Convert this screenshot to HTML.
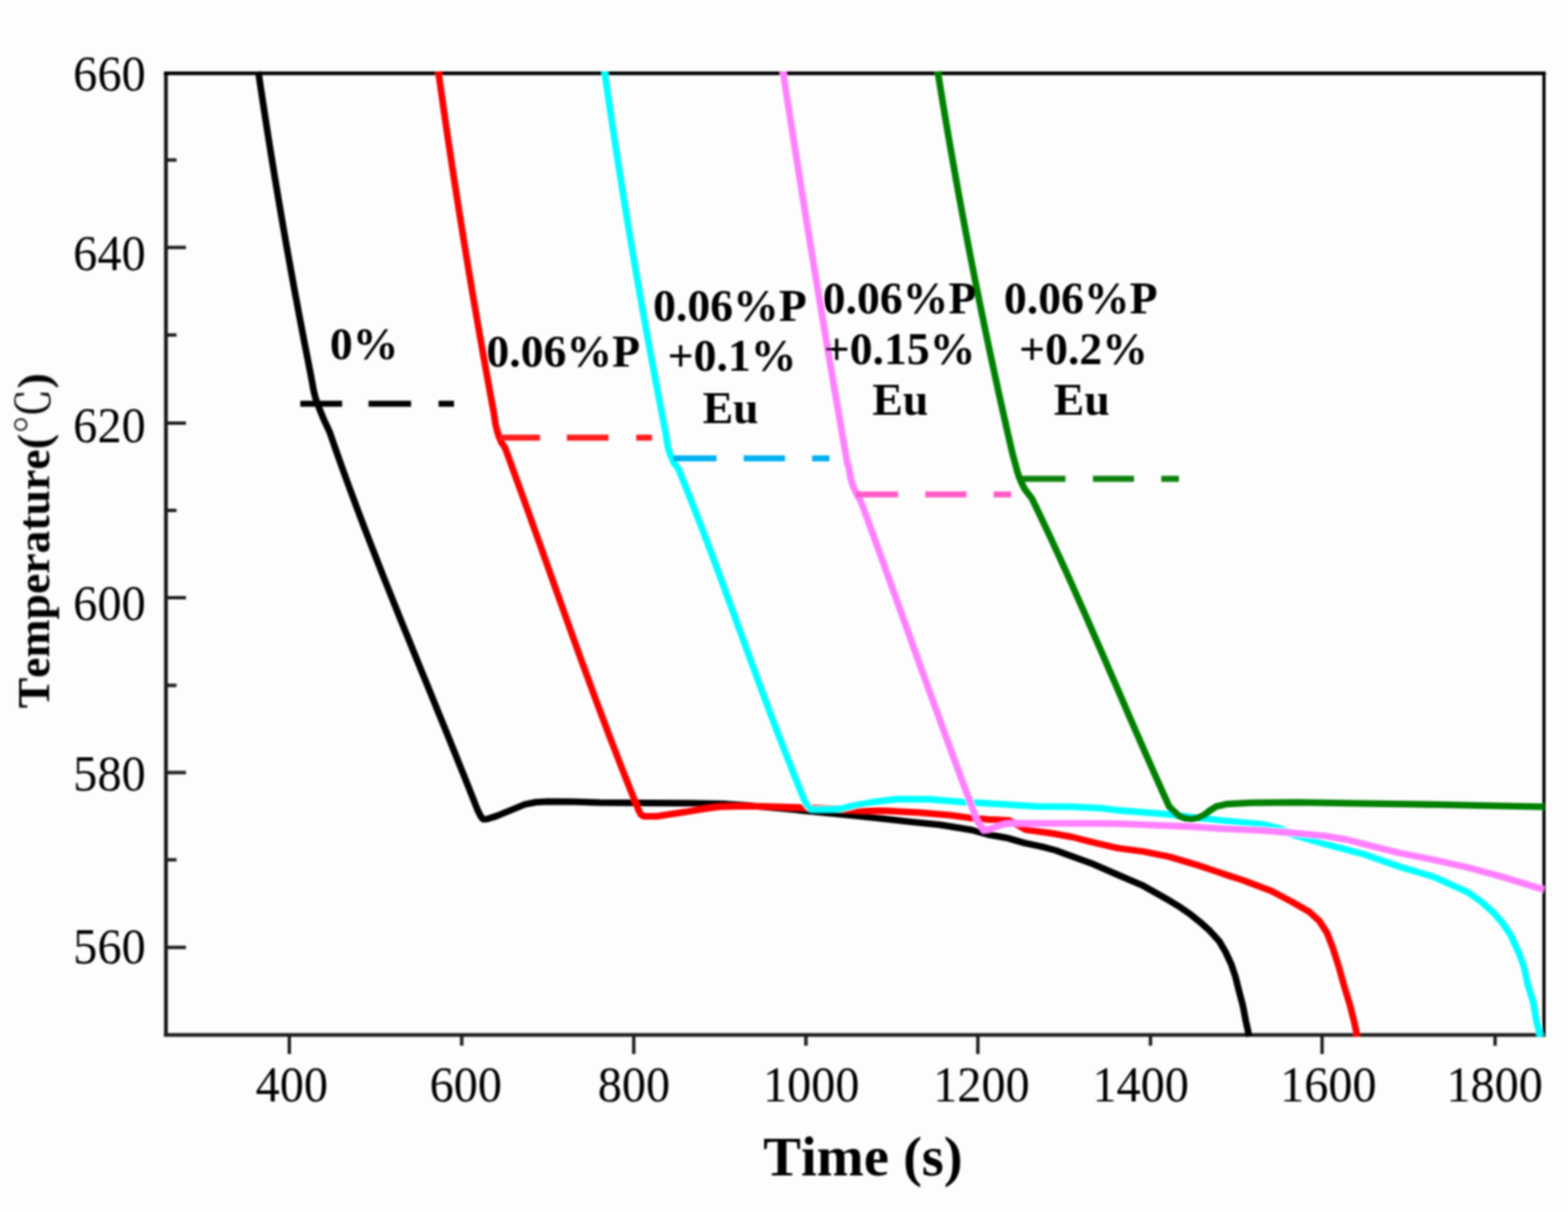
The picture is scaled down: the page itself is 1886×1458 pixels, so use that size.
<!DOCTYPE html><html><head><meta charset="utf-8"><title>Cooling curves</title><style>html,body{margin:0;padding:0;background:#fdfdfd;}svg{display:block}text{font-family:"Liberation Serif","Noto Serif CJK SC",serif;fill:#000;font-kerning:none;font-feature-settings:"kern" 0}</style></head><body>
<svg width="1886" height="1458" viewBox="0 0 1886 1458">
<rect x="0" y="0" width="1886" height="1458" fill="#fdfdfd"/>
<defs><filter id="soft" x="0" y="0" width="100%" height="100%" filterUnits="userSpaceOnUse"><feGaussianBlur stdDeviation="0.8"/></filter></defs>
<g filter="url(#soft)">
<rect x="197.3" y="86" width="4.6" height="1161" fill="#1a1a1a"/>
<rect x="197.3" y="86" width="1662" height="4.4" fill="#000"/>
<rect x="1855.2" y="86" width="3.8" height="1161" fill="#000"/>
<rect x="197.3" y="1242.8" width="1661.7" height="4.4" fill="#1a1a1a"/>
<rect x="200" y="295.7" width="23.7" height="4" fill="#1a1a1a"/>
<rect x="200" y="507" width="23.7" height="4" fill="#1a1a1a"/>
<rect x="200" y="717" width="23.7" height="4" fill="#1a1a1a"/>
<rect x="200" y="927.4" width="23.7" height="4" fill="#1a1a1a"/>
<rect x="200" y="1137.7" width="23.7" height="4" fill="#1a1a1a"/>
<rect x="200" y="190.5" width="12.3" height="4" fill="#1a1a1a"/>
<rect x="200" y="401" width="12.3" height="4" fill="#1a1a1a"/>
<rect x="200" y="612" width="12.3" height="4" fill="#1a1a1a"/>
<rect x="200" y="822.5" width="12.3" height="4" fill="#1a1a1a"/>
<rect x="200" y="1032.3" width="12.3" height="4" fill="#1a1a1a"/>
<rect x="346" y="1245" width="4" height="23" fill="#1a1a1a"/>
<rect x="760.3" y="1245" width="4" height="23" fill="#1a1a1a"/>
<rect x="1174.2" y="1245" width="4" height="23" fill="#1a1a1a"/>
<rect x="1588.2" y="1245" width="4" height="23" fill="#1a1a1a"/>
<rect x="553.4" y="1245" width="4" height="13" fill="#1a1a1a"/>
<rect x="967.4" y="1245" width="4" height="13" fill="#1a1a1a"/>
<rect x="1381.8" y="1245" width="4" height="13" fill="#1a1a1a"/>
<rect x="1796.3" y="1245" width="4" height="13" fill="#1a1a1a"/>
<polyline points="310.71,86.0 313.55,105.16 316.44,124.32 319.38,143.47 322.38,162.63 325.43,181.79 328.53,200.95 331.69,220.11 334.9,239.26 338.16,258.42 341.47,277.58 344.83,296.74 348.25,315.89 351.72,335.05 355.24,354.21 358.82,373.37 362.45,392.53 366.13,411.68 369.86,430.84 373.64,450.0 377.3,470 379.3,478 381.7,485.1 385.5,495 389.6,504.9 396.62,520.0 403.15,538.91 409.83,557.83 416.64,576.74 423.58,595.65 430.64,614.56 437.8,633.48 445.07,652.39 452.42,671.3 459.85,690.21 467.36,709.12 474.92,728.04 482.53,746.95 490.18,765.86 497.86,784.77 505.57,803.69 513.28,822.6 521.0,841.51 528.7,860.42 536.39,879.34 544.06,898.25 551.68,917.16 559.26,936.07 566.78,954.99 574.23,973.9 578.5,982.5 581,985.6 586,985.2 597.4,981.6 614.4,974.6 631.4,967.6 645,965 660,964.3 690,964.4 722,965.5 754,965.7 780,966 830,966.2 870,967 900,969 940,972.5 980,976.5 1016,980 1054.5,984 1092.7,988.4 1131,992.2 1169,998.5 1190,1004.3 1211.2,1008 1232.4,1014.2 1253.6,1018.7 1270,1023 1280,1026.8 1311.8,1038.2 1343.6,1052 1375.4,1065.7 1407.3,1083.8 1420,1091.7 1431.7,1099.8 1443.3,1109.1 1455,1119.6 1466.6,1132.4 1474,1145 1481,1160 1486,1175 1490,1191 1495,1210 1498.3,1227.3 1501.5,1241.8 1502,1247" fill="none" stroke="#000000" stroke-width="8" stroke-linejoin="round" stroke-linecap="butt"/>
<polyline points="527.25,86.0 530.27,107.53 533.34,129.05 536.46,150.58 539.64,172.11 542.87,193.63 546.15,215.16 549.49,236.68 552.88,258.21 556.32,279.74 559.82,301.26 563.37,322.79 566.97,344.32 570.62,365.84 574.33,387.37 578.09,408.89 581.91,430.42 585.78,451.95 589.7,473.47 593.67,495.0 596.2,511.5 598.5,520 600.3,525.7 603,532 607.57,538.9 614.23,557.09 620.85,575.27 627.42,593.46 633.96,611.65 640.47,629.84 646.96,648.02 653.43,666.21 659.9,684.4 666.37,702.59 672.84,720.77 679.34,738.96 685.85,757.15 692.4,775.34 698.98,793.52 705.61,811.71 712.29,829.9 719.02,848.09 725.83,866.27 732.71,884.46 739.67,902.65 746.72,920.84 753.86,939.02 761.11,957.21 768.46,975.4 771,980 774,982 790,982 809.4,979 830,975.9 850,972.5 865.9,970.5 894.5,969.8 923.2,970.3 960,971.2 1000,973 1035.4,975 1067.3,975.6 1105.4,977.5 1143.6,980.7 1166.5,983.9 1188.6,985.8 1214,987 1225,993 1233.6,998.1 1265.4,1002.5 1290,1007 1311.8,1012.7 1343.6,1020.1 1375.4,1024.4 1407.3,1030.8 1439.1,1040.3 1480,1054.1 1494,1058.5 1529.7,1072 1556.4,1086.3 1575,1097 1587,1108 1596,1122 1603,1140 1610,1162 1617,1187 1623.8,1209.2 1629,1230 1631.5,1242 1632,1247" fill="none" stroke="#ff0000" stroke-width="8" stroke-linejoin="round" stroke-linecap="butt"/>
<polyline points="727.18,86.0 730.45,108.84 733.79,131.68 737.19,154.53 740.66,177.37 744.19,200.21 747.79,223.05 751.45,245.89 755.18,268.74 758.98,291.58 762.84,314.42 766.76,337.26 770.75,360.11 774.81,382.95 778.93,405.79 783.12,428.63 787.37,451.47 791.69,474.32 796.08,497.16 800.53,520.0 803.1,536.5 805.5,545 807.8,550.7 811,557.5 815.98,563.9 822.8,580.66 829.5,597.42 836.08,614.19 842.57,630.95 848.97,647.71 855.3,664.48 861.56,681.24 867.76,698.0 873.93,714.76 880.06,731.52 886.17,748.29 892.28,765.05 898.39,781.81 904.51,798.58 910.66,815.34 916.85,832.1 923.08,848.86 929.38,865.62 935.75,882.39 942.2,899.15 948.74,915.91 955.39,932.68 962.16,949.44 969.06,966.2 972.5,971 976,973.4 990,973.5 1010,973.3 1029.1,968.6 1054.5,964.2 1080,961.3 1118.2,961.6 1156.3,964.8 1180,966.1 1205.4,967.5 1245.9,970 1290,970.5 1325,972.3 1347.3,975.1 1404.5,979.5 1433.2,983 1470,987.2 1517.7,991.5 1540,997 1555.9,1004.5 1594.1,1015.4 1642.3,1028.2 1683.4,1042.6 1724.6,1054.9 1765.7,1073.4 1782,1085 1796.6,1098.1 1807,1110 1817.1,1124.9 1827.4,1147.5 1833,1163 1837.7,1184.5 1844,1205 1848,1227.7 1852.1,1244.2 1853,1247" fill="none" stroke="#00ffff" stroke-width="8" stroke-linejoin="round" stroke-linecap="butt"/>
<polyline points="941.73,86.0 945.57,110.87 949.44,135.75 953.34,160.62 957.26,185.49 961.22,210.37 965.19,235.24 969.2,260.12 973.23,284.99 977.29,309.86 981.38,334.74 985.49,359.61 989.63,384.48 993.8,409.36 997.99,434.23 1002.21,459.11 1006.46,483.98 1010.73,508.85 1015.04,533.73 1019.37,558.6 1020.6,560 1023.4,576.5 1026.5,586 1030.8,595.1 1035.78,603.9 1041.63,619.9 1047.47,635.91 1053.27,651.91 1059.06,667.92 1064.84,683.92 1070.59,699.92 1076.34,715.93 1082.09,731.93 1087.83,747.94 1093.57,763.94 1099.31,779.95 1105.05,795.95 1110.81,811.95 1116.58,827.96 1122.36,843.96 1128.16,859.97 1133.98,875.97 1139.83,891.97 1145.71,907.98 1151.61,923.98 1157.55,939.99 1163.53,955.99 1169.55,972.0 1175.61,988.0 1180,994 1183.5,998.5 1190,997.5 1198.5,994.5 1207.7,991.5 1219.2,990.3 1245.9,990.4 1300,990.5 1340,990.7 1361.6,991.6 1433.2,994.4 1470,996.7 1517.7,999.1 1555.9,1002 1594.1,1005.8 1620,1010 1642.3,1015.8 1683.4,1026.1 1724.6,1034.3 1765.7,1043.6 1806.9,1054.9 1854.2,1069.3 1857,1070" fill="none" stroke="#ff80ff" stroke-width="8" stroke-linejoin="round" stroke-linecap="butt"/>
<polyline points="1127.92,86.0 1131.82,110.16 1135.8,134.32 1139.88,158.47 1144.05,182.63 1148.32,206.79 1152.67,230.95 1157.12,255.11 1161.66,279.26 1166.29,303.42 1171.02,327.58 1175.84,351.74 1180.75,375.89 1185.75,400.05 1190.84,424.21 1196.03,448.37 1201.31,472.53 1206.68,496.68 1212.14,520.84 1217.7,545.0 1223.6,567 1225.5,573 1227.4,577.9 1230,583.5 1232.9,588.9 1241.3,599.9 1248.73,615.32 1256.05,630.74 1263.28,646.16 1270.42,661.58 1277.47,677.0 1284.45,692.42 1291.37,707.85 1298.22,723.27 1305.03,738.69 1311.79,754.11 1318.52,769.53 1325.21,784.95 1331.89,800.37 1338.56,815.79 1345.22,831.21 1351.88,846.63 1358.56,862.05 1365.25,877.48 1371.97,892.9 1378.72,908.32 1385.52,923.74 1392.36,939.16 1399.26,954.58 1406.23,970.0 1411,975 1418,981.5 1426,984.5 1434,985.2 1442,983.5 1449,980 1456,974.5 1463,970.2 1476.1,967.2 1504.7,965.8 1560,965.2 1650,966.7 1704,967.5 1780,969 1854.2,970.6 1857,970.6" fill="none" stroke="#008000" stroke-width="8" stroke-linejoin="round" stroke-linecap="butt"/>
<rect x="361.2" y="482.09999999999997" width="50.30000000000001" height="7.2" fill="#000000"/>
<rect x="443.3" y="482.09999999999997" width="51.099999999999966" height="7.2" fill="#000000"/>
<rect x="527.5" y="482.09999999999997" width="18.600000000000023" height="7.2" fill="#000000"/>
<rect x="600.5" y="522.9" width="49.0" height="7.2" fill="#ff1c1c"/>
<rect x="681.8" y="522.9" width="50.10000000000002" height="7.2" fill="#ff1c1c"/>
<rect x="765.3" y="522.9" width="18.90000000000009" height="7.2" fill="#ff1c1c"/>
<rect x="809.8" y="547.8" width="52.0" height="7.2" fill="#00b0f0"/>
<rect x="894.5" y="547.8" width="49.700000000000045" height="7.2" fill="#00b0f0"/>
<rect x="976.8" y="547.8" width="20.800000000000068" height="7.2" fill="#00b0f0"/>
<rect x="1029.3" y="591.1999999999999" width="50.90000000000009" height="7.2" fill="#ff5ac8"/>
<rect x="1112.9" y="591.1999999999999" width="49.59999999999991" height="7.2" fill="#ff5ac8"/>
<rect x="1195.2" y="591.1999999999999" width="21.0" height="7.2" fill="#ff5ac8"/>
<rect x="1229.8" y="572.4" width="51.700000000000045" height="7.2" fill="#078007"/>
<rect x="1314.6" y="572.4" width="49.30000000000018" height="7.2" fill="#078007"/>
<rect x="1396.8" y="572.4" width="21.200000000000045" height="7.2" fill="#078007"/>
<text transform="translate(175.2,109.1) scale(0.955,1)" font-size="60.8" text-anchor="end">660</text>
<text transform="translate(175.2,325.3) scale(0.955,1)" font-size="60.8" text-anchor="end">640</text>
<text transform="translate(175.2,532.1) scale(0.955,1)" font-size="60.8" text-anchor="end">620</text>
<text transform="translate(175.2,746.2) scale(0.955,1)" font-size="60.8" text-anchor="end">600</text>
<text transform="translate(175.2,951.0) scale(0.955,1)" font-size="60.8" text-anchor="end">580</text>
<text transform="translate(175.2,1159.1) scale(0.955,1)" font-size="60.8" text-anchor="end">560</text>
<text transform="translate(351,1324.8) scale(0.955,1)" font-size="60.8" text-anchor="middle">400</text>
<text transform="translate(560.3,1324.8) scale(0.955,1)" font-size="60.8" text-anchor="middle">600</text>
<text transform="translate(762.5,1324.8) scale(0.955,1)" font-size="60.8" text-anchor="middle">800</text>
<text transform="translate(975.8,1324.8) scale(0.955,1)" font-size="60.8" text-anchor="middle">1000</text>
<text transform="translate(1180.5,1324.8) scale(0.955,1)" font-size="60.8" text-anchor="middle">1200</text>
<text transform="translate(1372,1324.8) scale(0.955,1)" font-size="60.8" text-anchor="middle">1400</text>
<text transform="translate(1597.7,1324.8) scale(0.955,1)" font-size="60.8" text-anchor="middle">1600</text>
<text transform="translate(1797.7,1324.8) scale(0.955,1)" font-size="60.8" text-anchor="middle">1800</text>
<text x="1038" y="1414.3" font-size="68" font-weight="bold" text-anchor="middle">Time (s)</text>
<text transform="translate(59,650.5) rotate(-90)" font-size="55" font-weight="bold" text-anchor="middle">Temperature(<tspan font-weight="normal" font-family="Liberation Serif, Noto Serif CJK SC, serif">℃</tspan>)</text>
<text transform="translate(438,432.4) scale(1,1)" font-size="55" font-weight="bold" text-anchor="middle">0%</text>
<text transform="translate(677.3,441.3) scale(1,1)" font-size="55" font-weight="bold" text-anchor="middle">0.06%P</text>
<text transform="translate(878,385.5) scale(1,1)" font-size="55" font-weight="bold" text-anchor="middle">0.06%P</text>
<text transform="translate(880.5,446) scale(1,1)" font-size="55" font-weight="bold" text-anchor="middle">+0.1%</text>
<text transform="translate(878.8,508.7) scale(1,1)" font-size="55" font-weight="bold" text-anchor="middle">Eu</text>
<text transform="translate(1082,376.8) scale(1,1)" font-size="55" font-weight="bold" text-anchor="middle">0.06%P</text>
<text transform="translate(1082,438) scale(1,1)" font-size="55" font-weight="bold" text-anchor="middle">+0.15%</text>
<text transform="translate(1083,499.3) scale(1,1)" font-size="55" font-weight="bold" text-anchor="middle">Eu</text>
<text transform="translate(1300,376.8) scale(1,1)" font-size="55" font-weight="bold" text-anchor="middle">0.06%P</text>
<text transform="translate(1303.3,438) scale(1,1)" font-size="55" font-weight="bold" text-anchor="middle">+0.2%</text>
<text transform="translate(1301.2,499.3) scale(1,1)" font-size="55" font-weight="bold" text-anchor="middle">Eu</text>
</g>
</svg></body></html>
